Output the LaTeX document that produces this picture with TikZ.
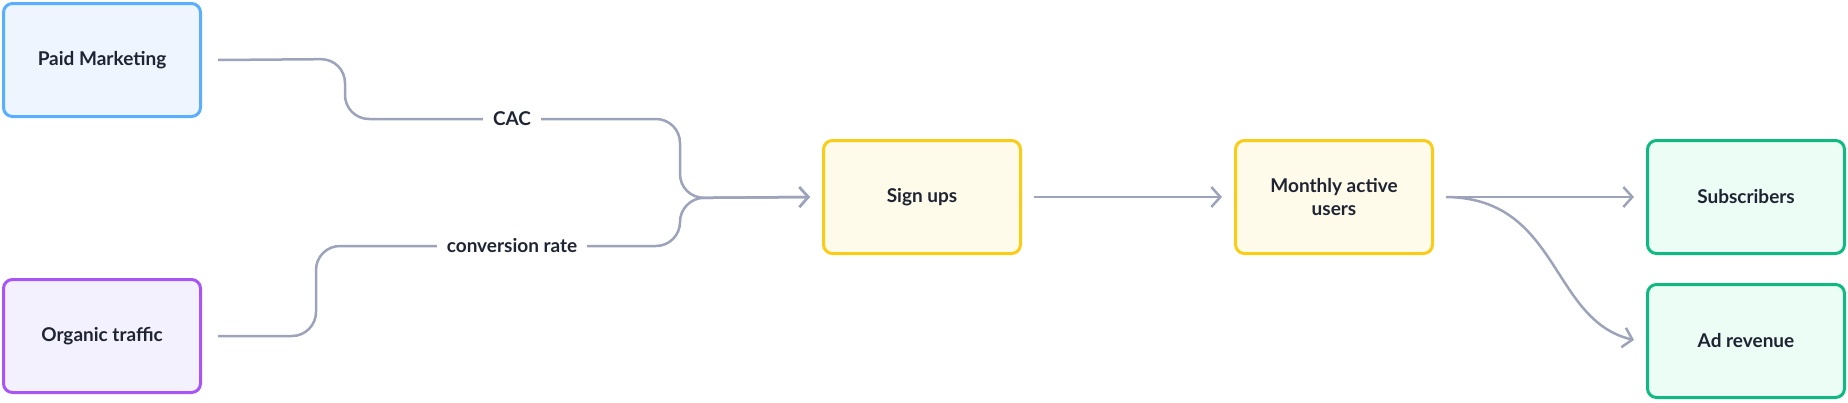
\documentclass[tikz,border=0pt]{standalone}
\usepackage{fontspec}
\setmainfont{Lato}
\usetikzlibrary{arrows.meta,positioning}
\definecolor{linegray}{HTML}{9CA3BA}
\definecolor{txt}{HTML}{1F2433}
\definecolor{bluedraw}{HTML}{5AAEFF}
\definecolor{bluefill}{HTML}{EEF5FF}
\definecolor{purpledraw}{HTML}{A855F7}
\definecolor{purplefill}{HTML}{F4F1FE}
\definecolor{yellowdraw}{HTML}{FACC15}
\definecolor{yellowfill}{HTML}{FEFBEA}
\definecolor{greendraw}{HTML}{10B981}
\definecolor{greenfill}{HTML}{ECFDF5}
\begin{document}
\begin{tikzpicture}[x=1pt,y=-1pt,
	box/.style={draw,rounded corners=9pt,line width=3pt,minimum width=197pt,minimum height=113pt,
		font=\fontsize{19}{23}\selectfont\bfseries,text=txt,align=center},
	blue box/.style={box,draw=bluedraw,fill=bluefill},
	purple box/.style={box,draw=purpledraw,fill=purplefill},
	yellow box/.style={box,draw=yellowdraw,fill=yellowfill},
	green box/.style={box,draw=greendraw,fill=greenfill},
	link/.style={draw=linegray,line width=2.5pt,-{Straight Barb[length=9pt,width=20pt,line width=2.5pt]}},
	lbl/.style={fill=white,font=\fontsize{19}{23}\selectfont\bfseries,text=txt,inner sep=10pt}]
	\useasboundingbox (0,0) rectangle (1848,402);
	
	\node[blue box] (pm) at (102,60) {Paid Marketing};
	\node[purple box] (ot) at (102,336) {Organic traffic};
	\node[yellow box] (su) at (922,197) {Sign ups};
	\node[yellow box] (mau) at (1334,197) {Monthly active\\users};
	\node[green box] (sub) at (1746,197) {Subscribers};
	\node[green box] (ad) at (1746,341) {Ad revenue};
	
	\coordinate (pmout) at ([xshift=16pt]pm.east);
	\coordinate (otout) at ([xshift=16pt]ot.east);
	\coordinate (suin) at ([xshift=-12pt]su.west);
	
	\draw[link,rounded corners=24pt] (pmout) -- (345,59) -- (345,119) -- (680,119) -- (680,198) -- (suin);
	\draw[link,rounded corners=24pt] (otout) -- (316,336) -- (316,246) -- (680,246) -- (680,198) -- (suin);
	\node[lbl] (cac) at (512,119) {CAC};
	\node[lbl] (cr) at (512,246) {conversion rate};
	
	\draw[link] ([xshift=12pt]su.east) -- ([xshift=-12pt]mau.west);
	\draw[link] ([xshift=12pt]mau.east) -- ([xshift=-12pt]sub.west);
	\draw[link] ([xshift=12pt]mau.east) .. controls (1560,198) and (1550,320) .. ([xshift=-12pt,yshift=1pt]ad.west);
\end{tikzpicture}
\end{document}
